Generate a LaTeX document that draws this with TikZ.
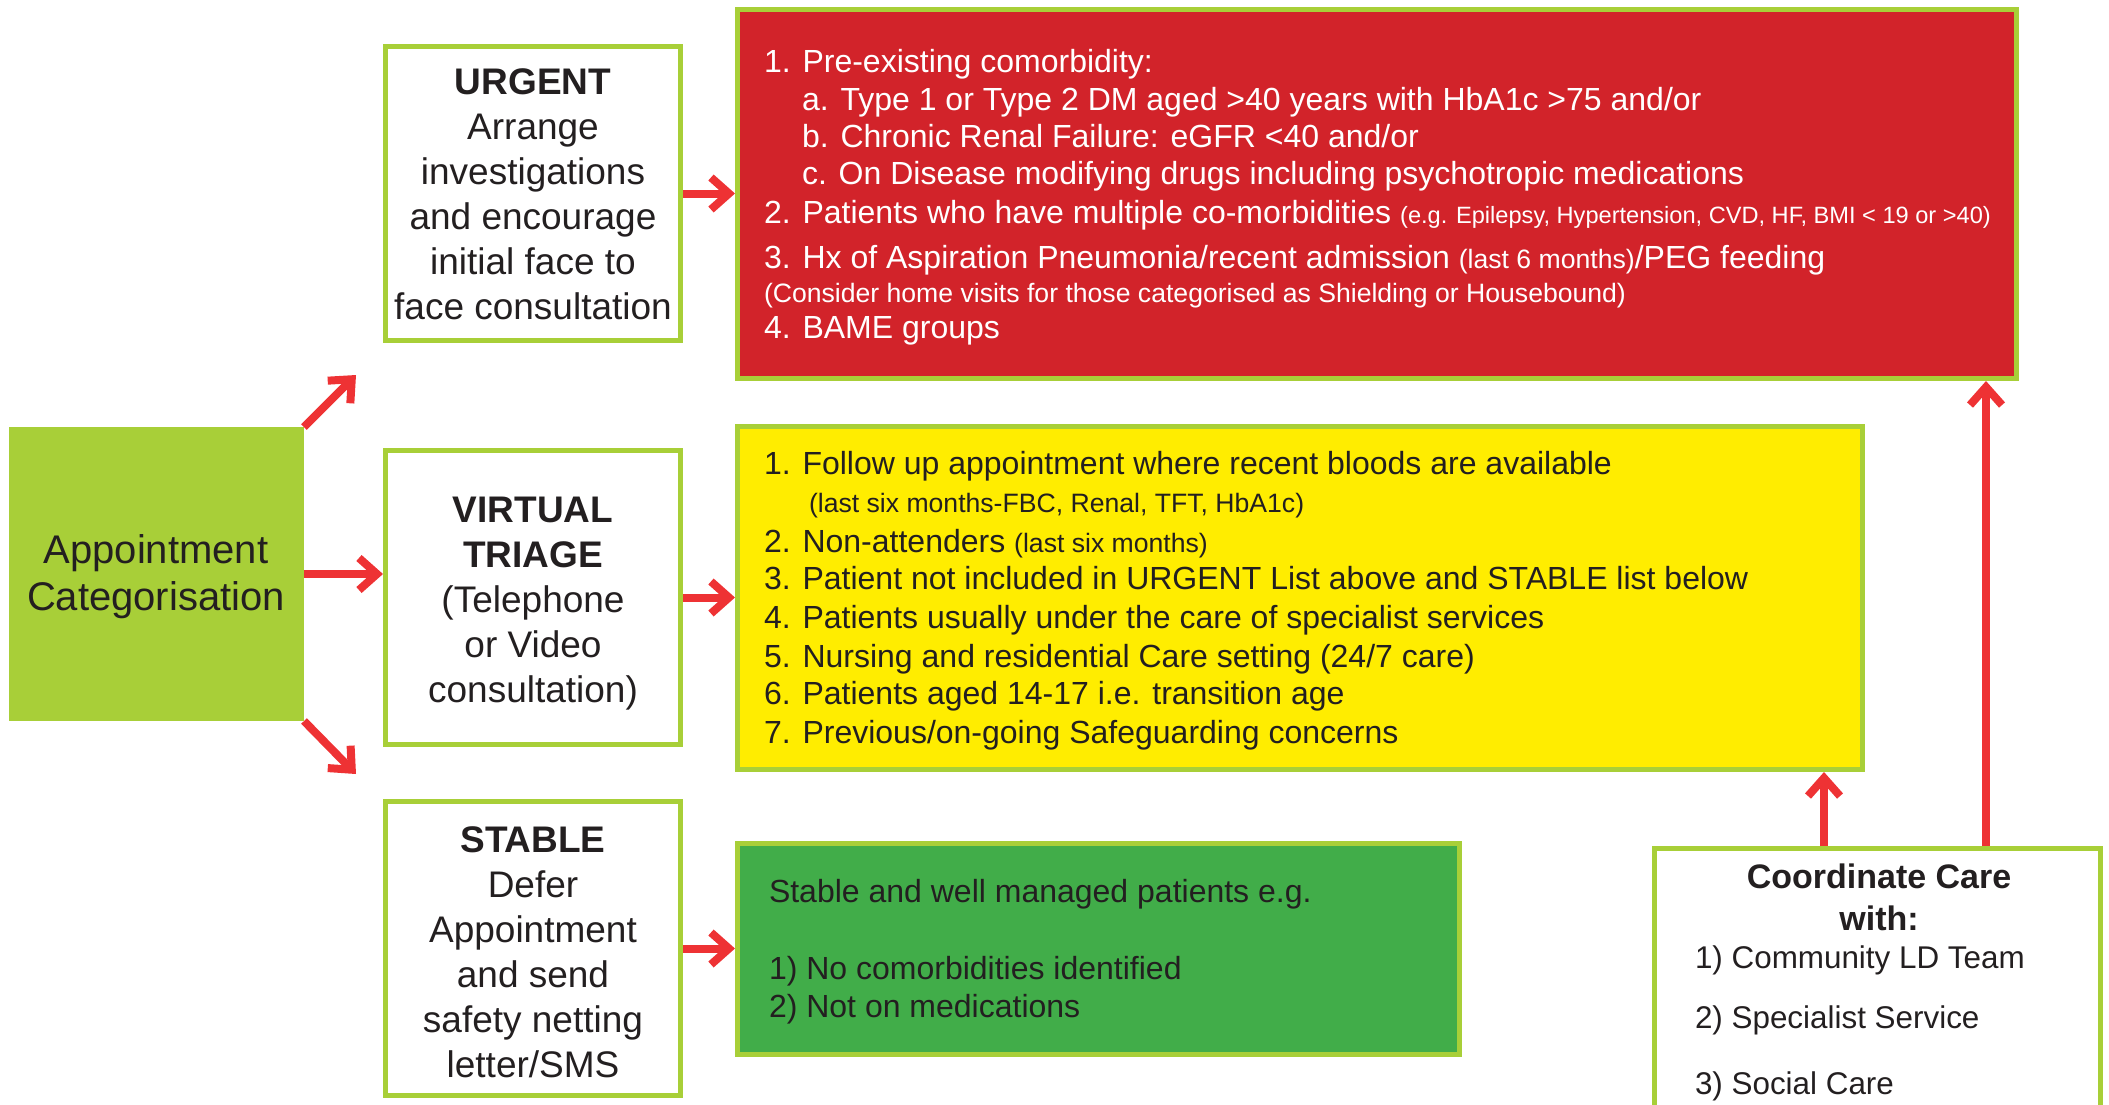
\documentclass[tikz,border=0pt]{standalone}
\usepackage{fontspec}
\setmainfont{Liberation Sans}
\usetikzlibrary{arrows.meta}
\definecolor{lgreen}{HTML}{A8CF38}
\definecolor{bred}{HTML}{D2232A}
\definecolor{byel}{HTML}{FFED00}
\definecolor{bgrn}{HTML}{41AD49}
\definecolor{ared}{HTML}{EE3234}
\definecolor{ink}{HTML}{231F20}
\newcommand\myTitle{\fontsize{18.5pt}{22pt}\selectfont\bfseries}
\newcommand\myBody{\fontsize{18.5pt}{22pt}\selectfont}
\newcommand\myAppt{\fontsize{20pt}{24pt}\selectfont}
\newcommand\myList{\fontsize{16pt}{19pt}\selectfont}
\newcommand\mySmall{\fontsize{13.3pt}{16pt}\selectfont}
\newcommand\myTiny{\fontsize{11.8pt}{14pt}\selectfont}
\newcommand\myGrn{\fontsize{16pt}{19pt}\selectfont}
\newcommand\myCoT{\fontsize{17pt}{20pt}\selectfont\bfseries}
\newcommand\myCoL{\fontsize{15.7pt}{19pt}\selectfont}
\begin{document}
\begin{tikzpicture}[x=0.5pt,y=-0.5pt,
  box/.style={draw=lgreen, line width=2.5pt, inner sep=0pt, outer sep=1.25pt},
  catbox/.style={box, fill=white, minimum width=147.5pt, minimum height=147pt},
  ts/.style={inner sep=0pt, outer sep=0pt, text=ink},
  tc/.style={ts, anchor=base},
  tl/.style={ts, anchor=base west},
  tw/.style={tl, text=white},
  arr/.style={draw=ared, line width=4pt, -{Straight Barb[length=9pt,width=16pt]}}
]
\useasboundingbox (0,0) rectangle (2109,1104);
\clip (0,0) rectangle (2109,1104);

% boxes
\node[fill=lgreen, inner sep=0pt, outer sep=0pt, minimum width=147.5pt, minimum height=147pt] (appt) at (156.5,574) {};
\node[catbox] (urg) at (533,193.5) {};
\node[catbox] (vir) at (533,597.5) {};
\node[catbox] (stb) at (533,948.5) {};
\node[box, fill=bred, minimum width=639.5pt, minimum height=184.5pt] (red) at (1377,194) {};
\node[box, fill=byel, minimum width=562.5pt, minimum height=171.5pt] (yel) at (1300,598) {};
\node[box, fill=bgrn, minimum width=361pt, minimum height=105.5pt] (grn) at (1098.5,949) {};
\node[box, fill=white, minimum width=223pt, minimum height=154.5pt] (crd) at (1877.5,1003) {};

% connectors
\coordinate (ua) at (356,375);
\coordinate (sa) at (356,774);
\coordinate (cy) at ([xshift=-26.75pt]crd.north);
\coordinate (cr) at ([xshift=54.25pt]crd.north);
\draw[arr] (appt.north east) -- (ua);
\draw[arr] (appt.east) -- (appt.east -| vir.west);
\draw[arr] (appt.south east) -- (sa);
\draw[arr] (urg.east) -- (urg.east -| red.west);
\draw[arr] (vir.east) -- (vir.east -| yel.west);
\draw[arr] (stb.east) -- (stb.east -| grn.west);
\draw[arr] (cy) -- (cy |- yel.south);
\draw[arr] (cr) -- (cr |- red.south);

% appointment text
\node[tc, font=\myAppt] (ap1) at (156,563) {Appointment};
\node[tc, font=\myAppt] (ap2) at (156,610) {Categorisation};

% URGENT
\node[tc, font=\myTitle] (urgT) at (533,94) {URGENT};
\foreach \s [count=\i from 1] in {Arrange,investigations,and encourage,initial face to,face consultation}
  \node[tc, font=\myBody] (urg\i) at (533,{94+45*\i}) {\s};

% VIRTUAL
\node[tc, font=\myTitle] (virT1) at (533,522) {VIRTUAL};
\node[tc, font=\myTitle] (virT2) at (533,567) {TRIAGE};
\node[tc, font=\myBody] (vir1) at (533,612) {(Telephone};
\node[tc, font=\myBody] (vir2) at (533,657) {or Video};
\node[tc, font=\myBody] (vir3) at (533,702) {consultation)};

% STABLE
\node[tc, font=\myTitle] (stbT) at (533,852) {STABLE};
\foreach \s [count=\i from 1] in {Defer,Appointment,and send,safety netting,letter/SMS}
  \node[tc, font=\myBody] (stb\i) at (533,{852+45*\i}) {\s};

% red box text
\node[tw, font=\myList] (r1) at (764,72) {1. Pre-existing comorbidity:};
\node[tw, font=\myList] (r1a) at (802,110) {a. Type 1 or Type 2 DM aged >40 years with HbA1c >75 and/or};
\node[tw, font=\myList] (r1b) at (802,147) {b. Chronic Renal Failure: eGFR <40 and/or};
\node[tw, font=\myList] (r1c) at (802,184) {c. On Disease modifying drugs including psychotropic medications};
\node[tw, font=\myList] (r2) at (764,223) {2. Patients who have multiple co-morbidities {\myTiny(e.g. Epilepsy, Hypertension, CVD, HF, BMI < 19 or >40)}};
\node[tw, font=\myList] (r3) at (764,268) {3. Hx of Aspiration Pneumonia/recent admission {\mySmall(last 6 months)}/PEG feeding};
\node[tw, font=\mySmall] (r3n) at (764,302) {(Consider home visits for those categorised as Shielding or Housebound)};
\node[tw, font=\myList] (r4) at (764,338) {4. BAME groups};

% yellow box text
\node[tl, font=\myList] (y1) at (764,474) {1. Follow up appointment where recent bloods are available};
\node[tl, font=\mySmall] (y1n) at (809,512) {(last six months-FBC, Renal, TFT, HbA1c)};
\node[tl, font=\myList] (y2) at (764,552) {2. Non-attenders {\mySmall(last six months)}};
\node[tl, font=\myList] (y3) at (764,589) {3. Patient not included in URGENT List above and STABLE list below};
\node[tl, font=\myList] (y4) at (764,628) {4. Patients usually under the care of specialist services};
\node[tl, font=\myList] (y5) at (764,667) {5. Nursing and residential Care setting (24/7 care)};
\node[tl, font=\myList] (y6) at (764,704) {6. Patients aged 14-17 i.e. transition age};
\node[tl, font=\myList] (y7) at (764,743) {7. Previous/on-going Safeguarding concerns};

% green box text
\node[tl, font=\myGrn] (g0) at (769,902) {Stable and well managed patients e.g.};
\node[tl, font=\myGrn] (g1) at (769,979) {1) No comorbidities identified};
\node[tl, font=\myGrn] (g2) at (769,1017) {2) Not on medications};

% coordinate care text
\node[tc, font=\myCoT] (cT1) at (1879,888) {Coordinate Care};
\node[tc, font=\myCoT] (cT2) at (1879,930) {with:};
\node[tl, font=\myCoL] (c1) at (1695,968) {1) Community LD Team};
\node[tl, font=\myCoL] (c2) at (1695,1028) {2) Specialist Service};
\node[tl, font=\myCoL] (c3) at (1695,1094) {3) Social Care};
\end{tikzpicture}
\end{document}
